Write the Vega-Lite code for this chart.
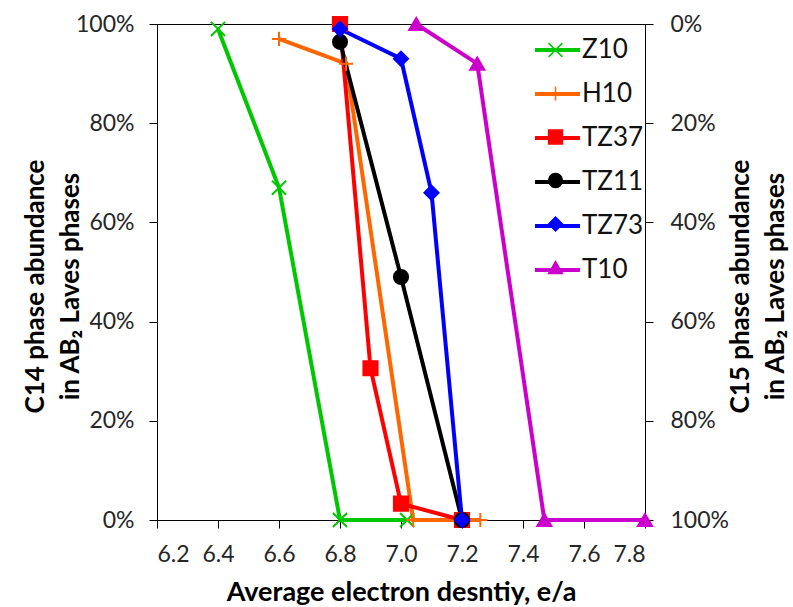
{
  "$schema": "https://vega.github.io/schema/vega-lite/v6.json",
  "width": 488,
  "height": 496,
  "autosize": {"type": "none"},
  "padding": {"left": 157, "top": 24, "right": 148, "bottom": 87},
  "config": {
    "font": "Lato",
    "view": {"stroke": "black", "strokeWidth": 1},
    "axis": {
      "grid": false,
      "domainColor": "black",
      "tickColor": "black",
      "labelFont": "Lato",
      "labelFontSize": 23,
      "labelColor": "#262626",
      "titleFont": "Lato",
      "titleFontSize": 26,
      "titleFontWeight": "bold",
      "titleColor": "black",
      "tickSize": 8,
      "labelPadding": 15,
      "titleLineHeight": 35
    }
  },
  "datasets": {
    "d": [
      {"s": "Z10", "x": 6.4, "v": 0.99},
      {"s": "Z10", "x": 6.6, "v": 0.67},
      {"s": "Z10", "x": 6.8, "v": 0},
      {"s": "Z10", "x": 7.02, "v": 0},
      {"s": "H10", "x": 6.6, "v": 0.97},
      {"s": "H10", "x": 6.82, "v": 0.92},
      {"s": "H10", "x": 7.04, "v": 0},
      {"s": "H10", "x": 7.26, "v": 0},
      {"s": "TZ37", "x": 6.8, "v": 1.0},
      {"s": "TZ37", "x": 6.9, "v": 0.306},
      {"s": "TZ37", "x": 7.0, "v": 0.033},
      {"s": "TZ37", "x": 7.2, "v": 0},
      {"s": "TZ11", "x": 6.8, "v": 0.964},
      {"s": "TZ11", "x": 7.0, "v": 0.49},
      {"s": "TZ11", "x": 7.2, "v": 0},
      {"s": "TZ73", "x": 6.8, "v": 0.99},
      {"s": "TZ73", "x": 7.0, "v": 0.93},
      {"s": "TZ73", "x": 7.1, "v": 0.66},
      {"s": "TZ73", "x": 7.2, "v": 0},
      {"s": "T10", "x": 7.05, "v": 1.0},
      {"s": "T10", "x": 7.25, "v": 0.92},
      {"s": "T10", "x": 7.47, "v": 0},
      {"s": "T10", "x": 7.8, "v": 0}
    ]
  },
  "data": {"name": "d"},
  "layer": [
    {
      "layer": [
        {
          "mark": {"type": "line", "strokeWidth": 4},
          "encoding": {
            "x": {
              "field": "x", "type": "quantitative",
              "scale": {"domain": [6.2, 7.8], "nice": false, "zero": false},
              "axis": {"values": [6.2, 6.4, 6.6, 6.8, 7.0, 7.2, 7.4, 7.6, 7.8], "format": ".1f", "title": "Average electron desntiy, e/a", "labelPadding": 15, "titlePadding": 13, "titleFontSize": 27}
            },
            "y": {
              "field": "v", "type": "quantitative",
              "scale": {"domain": [0, 1], "nice": false},
              "axis": {"orient": "left", "format": ".0%", "values": [0, 0.2, 0.4, 0.6, 0.8, 1], "title": ["C14 phase abundance", "in AB₂ Laves phases"], "titlePadding": -8, "titleY": 262}
            },
            "color": {
              "field": "s", "type": "nominal",
              "sort": ["Z10", "H10", "TZ37", "TZ11", "TZ73", "T10"],
              "scale": {"range": ["#00C800", "#FF6600", "#FF0000", "#000000", "#0000FF", "#CC00CC"]},
              "legend": {
                "orient": "none", "legendX": 376, "legendY": 1.5, "title": null,
                "symbolType": "stroke", "symbolSize": 2025, "symbolStrokeWidth": 4,
                "labelFont": "Lato", "labelFontSize": 26, "labelColor": "#111", "labelOffset": 0,
                "rowPadding": 6
              }
            }
          }
        },
        {
          "mark": {"type": "point", "filled": true, "opacity": 1, "strokeWidth": 2},
          "encoding": {
            "x": {"field": "x", "type": "quantitative"},
            "y": {"field": "v", "type": "quantitative"},
            "fill": {
              "field": "s", "type": "nominal",
              "scale": {"domain": ["T10", "TZ73", "TZ11", "TZ37", "H10", "Z10"], "range": ["#CC00CC", "#0000FF", "#000000", "#FF0000", "#FF6600", "#00C800"]},
              "legend": {
                "orient": "none", "legendX": 385.5, "legendY": 13, "title": null,
                "values": ["Z10", "H10", "TZ37", "TZ11", "TZ73", "T10"],
                "symbolSize": 190, "symbolStrokeWidth": 1.5,
                "labelFont": "Lato", "labelFontSize": 26, "labelExpr": "''", "labelOffset": 0,
                "rowPadding": 17.5
              }
            },
            "stroke": {
              "field": "s", "type": "nominal",
              "scale": {"domain": ["T10", "TZ73", "TZ11", "TZ37", "H10", "Z10"], "range": ["#CC00CC", "#0000FF", "#000000", "#FF0000", "#FF6600", "#00C800"]},
              "legend": {
                "orient": "none", "legendX": 385.5, "legendY": 13, "title": null,
                "values": ["Z10", "H10", "TZ37", "TZ11", "TZ73", "T10"],
                "symbolSize": 190, "symbolStrokeWidth": 1.5,
                "labelFont": "Lato", "labelFontSize": 26, "labelExpr": "''", "labelOffset": 0,
                "rowPadding": 17.5
              }
            },
            "size": {
              "field": "s", "type": "nominal",
              "scale": {"domain": ["Z10", "H10", "TZ37", "TZ11", "TZ73", "T10"], "range": [200, 200, 270, 210, 260, 300]},
              "legend": null
            },
            "shape": {
              "field": "s", "type": "nominal",
              "scale": {"domain": ["T10", "TZ73", "TZ11", "TZ37", "H10", "Z10"], "range": ["triangle-up", "diamond", "circle", "square", "M-1,0L1,0M0,-1L0,1", "M-1,-1L1,1M-1,1L1,-1"]},
              "legend": {
                "orient": "none", "legendX": 385.5, "legendY": 13, "title": null,
                "values": ["Z10", "H10", "TZ37", "TZ11", "TZ73", "T10"],
                "symbolSize": 190, "symbolStrokeWidth": 1.5,
                "labelFont": "Lato", "labelFontSize": 26, "labelExpr": "''", "labelOffset": 0,
                "rowPadding": 17.5
              }
            }
          }
        }
      ]
    },
    {
      "mark": {"type": "point", "opacity": 0},
      "encoding": {
        "x": {"field": "x", "type": "quantitative"},
        "y": {
          "field": "v", "type": "quantitative",
          "scale": {"domain": [0, 1], "reverse": true, "nice": false},
          "axis": {"orient": "right", "format": ".0%", "values": [0, 0.2, 0.4, 0.6, 0.8, 1], "title": ["C15 phase abundance", "in AB₂ Laves phases"], "titleAngle": -90, "titlePadding": -10, "labelPadding": 17, "titleY": 262}
        }
      }
    }
  ],
  "resolve": {"scale": {"y": "independent"}}
}
